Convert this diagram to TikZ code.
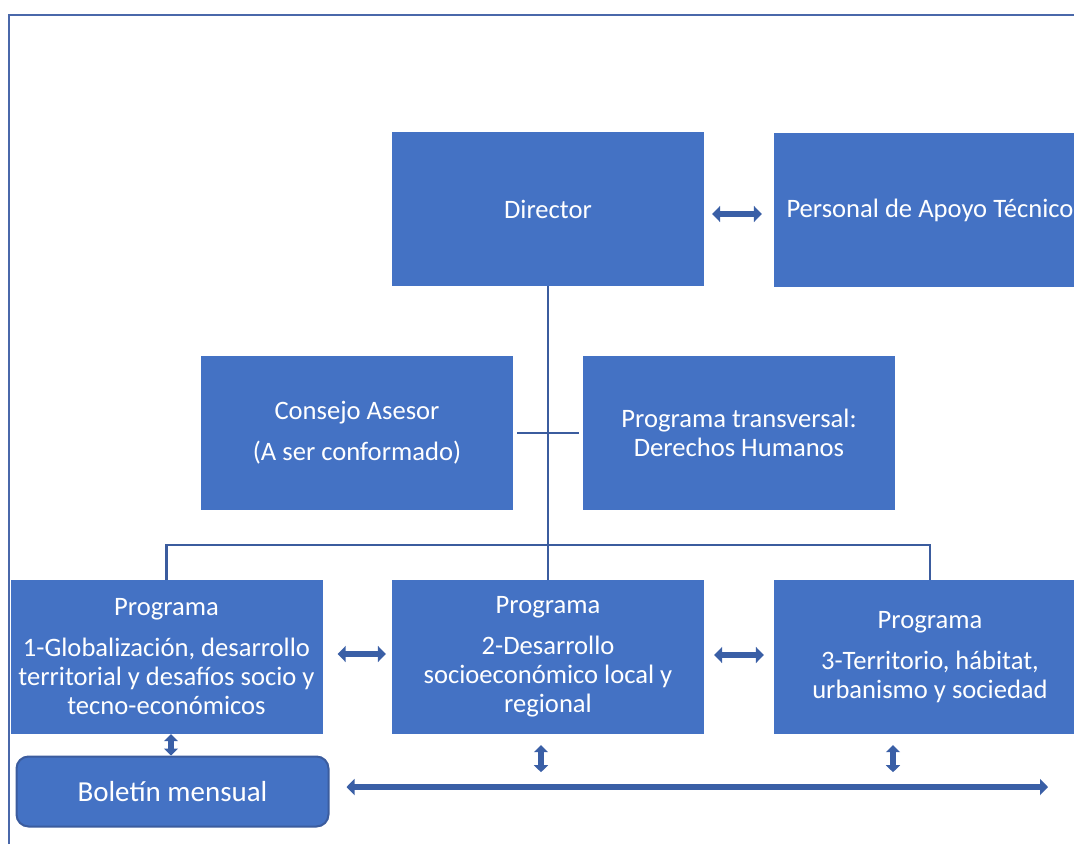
\documentclass[tikz,border=0pt]{standalone}
\usepackage{fontspec}
\setmainfont{Carlito}
\usetikzlibrary{arrows.meta}
\definecolor{boxblue}{HTML}{4472C4}
\definecolor{lineblue}{HTML}{3B5C9E}
\definecolor{arrowfill}{HTML}{3A5FA6}
\definecolor{frameblue}{HTML}{4A68AA}
\begin{document}
\begin{tikzpicture}[x=1pt,y=-1pt,
  box/.style={fill=boxblue, text=white, minimum width=312pt, minimum height=154pt,
    inner sep=0pt, align=center, font=\fontsize{26.6}{29}\selectfont},
  conn/.style={draw=lineblue, line width=2.4pt},
  barrow/.style={draw=arrowfill, line width=6.5pt,
    {Triangle[width=16pt,length=8pt]}-{Triangle[width=16pt,length=8pt]}},
  barrowv/.style={draw=arrowfill, line width=6pt,
    {Triangle[width=14pt,length=7pt]}-{Triangle[width=14pt,length=7pt]}}
]
\useasboundingbox (0,0) rectangle (1074,844);
% frame
\draw[frameblue, line width=1.6pt] (9,844) -- (9,15) -- (1074,15);
% boxes
\node[box] (dir) at (548,209) {Director};
\node[box] (apoyo) at (930,210) {Personal de Apoyo Técnico};
\node[box] (consejo) at (357,433) {Consejo Asesor\\[12pt](A ser conformado)};
\node[box] (trans) at (739,433) {Programa transversal:\\Derechos Humanos};
\node[box] (p1) at (166.5,657) {Programa\\[12pt]1-Globalización, desarrollo\\territorial y desafíos socio y\\tecno-económicos};
\node[box] (p2) at (548,657) {Programa\\[12pt]2-Desarrollo\\socioeconómico local y\\regional};
\node[box] (p3) at (930,657) {Programa\\[12pt]3-Territorio, hábitat,\\urbanismo y sociedad};
\node[fill=boxblue, draw=lineblue, line width=2pt, rounded corners=12pt, text=white,
  minimum width=312pt, minimum height=70pt, inner sep=0pt,
  font=\fontsize{29}{34}\selectfont] (bol) at (172.5,791.5) {Boletín mensual};
% connectors
\coordinate (hl) at (166.5,545);
\coordinate (hr) at (930,545);
\coordinate (ca) at (517,433);
\coordinate (cb) at (579,433);
\draw[conn] (dir.south) -- (p2.north);
\draw[conn] (ca) -- (cb);
\draw[conn] (p1.north) -- (hl) -- (hr) -- (p3.north);
% block arrows
\coordinate (v4) at (171,0);
\coordinate (v5) at (541,0);
\coordinate (v6) at (893,0);
\coordinate (e7) at (1048,787);
\draw[barrow] ([xshift=8pt,yshift=-5pt]dir.east) -- ([xshift=-12pt,yshift=-4pt]apoyo.west);
\draw[barrow] ([xshift=15pt,yshift=3pt]p1.east) -- ([xshift=-6pt,yshift=3pt]p2.west);
\draw[barrow] ([xshift=10pt,yshift=2pt]p2.east) -- ([xshift=-10pt,yshift=2pt]p3.west);
\draw[barrowv] (p1.south -| v4) -- (bol.north -| v4);
\draw[barrowv] ([yshift=-11pt]p2.south -| v5) -- ([yshift=-38pt]p2.south -| v5);
\draw[barrowv] ([yshift=-11pt]p3.south -| v6) -- ([yshift=-38pt]p3.south -| v6);
\draw[barrow] ([xshift=17pt,yshift=4.5pt]bol.east) -- (e7);
\end{tikzpicture}
\end{document}
